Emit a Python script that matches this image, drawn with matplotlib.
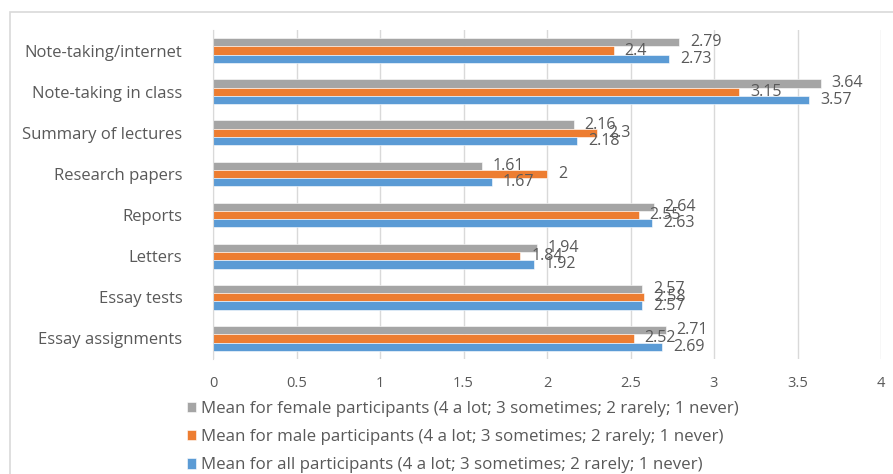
import matplotlib
matplotlib.use("Agg")
import matplotlib.pyplot as plt
from matplotlib.patches import Rectangle
import numpy as np

categories = ["Note-taking/internet", "Note-taking in class", "Summary of lectures",
              "Research papers", "Reports", "Letters", "Essay tests", "Essay assignments"]
female = [2.79, 3.64, 2.16, 1.61, 2.64, 1.94, 2.57, 2.71]
male = [2.4, 3.15, 2.3, 2, 2.55, 1.84, 2.58, 2.52]
all_p = [2.73, 3.57, 2.18, 1.67, 2.63, 1.92, 2.57, 2.69]
female_lbl = ["2.79", "3.64", "2.16", "1.61", "2.64", "1.94", "2.57", "2.71"]
male_lbl = ["2.4", "3.15", "2.3", "2", "2.55", "1.84", "2.58", "2.52"]
all_lbl = ["2.73", "3.57", "2.18", "1.67", "2.63", "1.92", "2.57", "2.69"]
series_names = [
    "Mean for female participants (4 a lot; 3 sometimes; 2 rarely; 1 never)",
    "Mean for male participants (4 a lot; 3 sometimes; 2 rarely; 1 never)",
    "Mean for all participants (4 a lot; 3 sometimes; 2 rarely; 1 never)",
]
xticks = [0, 0.5, 1, 1.5, 2, 2.5, 3, 3.5, 4]
xtick_labels = ["0", "0.5", "1", "1.5", "2", "2.5", "3", "3.5", "4"]

plt.rcParams['font.family'] = ['Open Sans', 'DejaVu Sans']
txt = '#595959'

fig = plt.figure(figsize=(8.93, 4.74), dpi=100)
ax = fig.add_axes([213/893, 115/474, (881-213)/893, (444-115)/474])

# chart border
fig.add_artist(Rectangle((10/893, -0.2), 1.2, (474-12)/474 + 0.2, transform=fig.transFigure,
                         fill=False, edgecolor='#d9d9d9', linewidth=1.2))

n = len(categories)
y = np.arange(n)
h = 0.2
colors = ['#A5A5A5', '#ED7D31', '#5B9BD5']
data = [female, male, all_p]
labels = [female_lbl, male_lbl, all_lbl]
offsets = [-h, 0, h]
for vals, lbls, off, col, name in zip(data, labels, offsets, colors, series_names):
    ax.barh(y + off, vals, height=h, color=col, label=name, zorder=3,
            edgecolor='white', linewidth=0.4)
    for yi, v, l in zip(y, vals, lbls):
        ax.text(v + 0.065, yi + off, l, va='center', ha='left', fontsize=11.5,
                color=txt, zorder=4)

ax.set_ylim(n - 0.5, -0.5)
ax.set_xlim(0, 4)
ax.set_xticks(xticks)
ax.set_xticklabels(xtick_labels, fontsize=10.5, color=txt)
ax.set_yticks(y)
ax.set_yticklabels(categories, fontsize=12, color=txt)
ax.tick_params(axis='y', length=0, pad=22)
ax.tick_params(axis='x', length=0, pad=12)
ax.grid(axis='x', color='#d9d9d9', linewidth=1, zorder=0)
for s in ['top', 'right', 'bottom']:
    ax.spines[s].set_visible(False)
ax.spines['left'].set_color('#d9d9d9')
ax.spines['left'].set_zorder(5)

handles, hl = ax.get_legend_handles_labels()
leg = fig.legend(handles, hl, loc='upper left', bbox_to_anchor=(187/893, 1 - 401/474),
                 ncol=1, frameon=False, fontsize=12.2, handlelength=0.55, handleheight=0.55,
                 handletextpad=0.3, labelspacing=0.72, borderaxespad=0, borderpad=0)
for t in leg.get_texts():
    t.set_color(txt)

fig.savefig('out.png', dpi=100)
